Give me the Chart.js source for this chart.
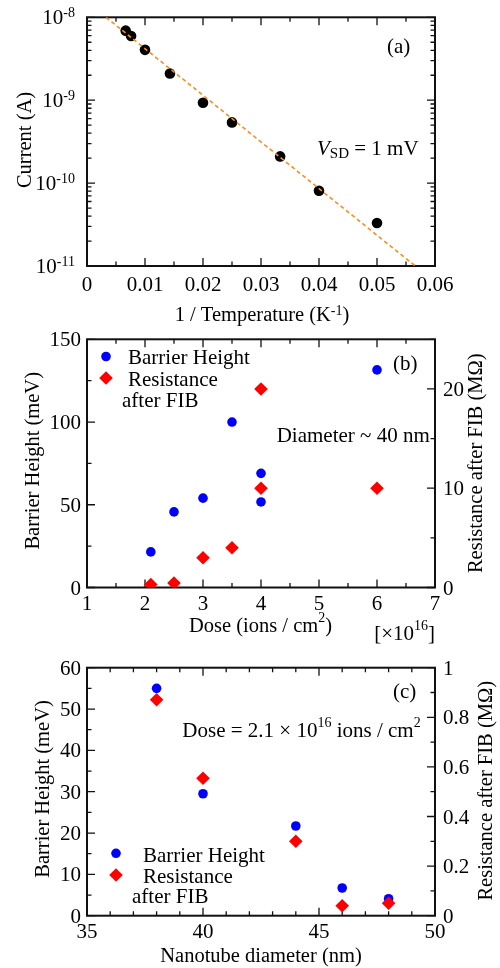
<!DOCTYPE html>
<html><head><meta charset="utf-8">
<script src="https://cdn.jsdelivr.net/npm/chart.js@4"></script>
<style>
html,body{margin:0;padding:0;background:#fff;}
#wrap{position:relative;width:500px;height:968px;background:#fff;}
canvas{position:absolute;left:0;top:0;}
</style></head><body>
<div id="wrap">
<canvas id="ca" width="500" height="968"></canvas>
<canvas id="cb" width="500" height="968"></canvas>
<canvas id="cc" width="500" height="968"></canvas>
</div>
<script>
// ---------- Panel (a) data ----------
const aInvTemp = [0.00667, 0.0076, 0.0100, 0.0143, 0.0200, 0.0250, 0.0333, 0.0400, 0.0500];
const aCurrent = [6.9e-9, 5.95e-9, 4.05e-9, 2.1e-9, 9.3e-10, 5.4e-10, 2.1e-10, 8.1e-11, 3.3e-11];
const aFitX = [0.00328, 0.0566];
const aFitY = [1e-8, 1e-11];
const aXTicks = [0, 0.01, 0.02, 0.03, 0.04, 0.05, 0.06];
const aXTickLabels = ['0', '0.01', '0.02', '0.03', '0.04', '0.05', '0.06'];
const aYTicks = [1e-11, 1e-10, 1e-9, 1e-8];
const aYTickExp = ['-11', '-10', '-9', '-8'];

// ---------- Panel (b) data ----------
const bDose = [2.1, 2.5, 3.0, 3.5, 4.0, 4.0, 6.0];
const bBarrier = [21.5, 45.7, 54, 100, 69, 51.7, 131.5];
const bResDose = [2.1, 2.5, 3.0, 3.5, 4.0, 4.0, 6.0];
const bResistance = [0.3, 0.45, 3, 4, 20, 10, 10];
const bXTicks = [1, 2, 3, 4, 5, 6, 7];
const bYTicks = [0, 50, 100, 150];
const bY2Ticks = [0, 10, 20];

// ---------- Panel (c) data ----------
const cDiameter = [38, 40, 44, 46, 48];
const cBarrier = [55, 29.5, 21.7, 6.7, 4.1];
const cResistance = [0.871, 0.554, 0.30, 0.04, 0.05];
const cXTicks = [35, 40, 45, 50];
const cYTicks = [0, 10, 20, 30, 40, 50, 60];
const cY2Ticks = [0, 0.2, 0.4, 0.6, 0.8, 1];
const cY2TickLabels = ['0', '0.2', '0.4', '0.6', '0.8', '1'];

const FF = '"Liberation Serif", "Times New Roman", serif';
const W = 500, H = 968;
const AREA_L = 87, AREA_R = 435;

function range(a, b, step) { const r = []; for (let v = a; v <= b + 1e-9; v += step) r.push(+v.toFixed(6)); return r; }

function rich(ctx, x, y, parts, o = {}) {
  const size = o.size || 21, align = o.align || 'left';
  ctx.save();
  ctx.translate(x, y);
  if (o.rot) ctx.rotate(o.rot);
  ctx.textBaseline = 'alphabetic'; ctx.textAlign = 'left';
  ctx.fillStyle = o.color || '#000';
  const items = parts.map(p => {
    const t = typeof p === 'string' ? { t: p } : p;
    const s = (t.sup || t.sub) ? (t.size || size * 0.66) : size;
    const font = (t.it ? 'italic ' : '') + s + 'px ' + FF;
    ctx.font = font;
    const w = ctx.measureText(t.t).width;
    const dy = t.sup ? -(t.raise != null ? t.raise : size * 0.4) : t.sub ? (t.drop != null ? t.drop : size * 0.16) : 0;
    return { t: t.t, font, w, dy, dx: t.dx || 0 };
  });
  const total = items.reduce((a, b) => a + b.w + b.dx, 0);
  let cx = align === 'left' ? 0 : align === 'right' ? -total : -total / 2;
  for (const it of items) { cx += it.dx; ctx.font = it.font; ctx.fillText(it.t, cx, it.dy); cx += it.w; }
  ctx.restore();
}

function tickMarks(ctx, ca, scale, vals, len, sides) {
  ctx.beginPath();
  for (const v of vals) {
    const p = scale.getPixelForValue(v);
    for (const s of sides) {
      if (s === 'bottom') { ctx.moveTo(p, ca.bottom); ctx.lineTo(p, ca.bottom - len); }
      if (s === 'top') { ctx.moveTo(p, ca.top); ctx.lineTo(p, ca.top + len); }
      if (s === 'left') { ctx.moveTo(ca.left, p); ctx.lineTo(ca.left + len, p); }
      if (s === 'right') { ctx.moveTo(ca.right, p); ctx.lineTo(ca.right - len, p); }
    }
  }
  ctx.stroke();
}

function drawFrame(ctx, ca) {
  ctx.save();
  ctx.strokeStyle = '#111'; ctx.lineWidth = 2;
  ctx.strokeRect(ca.left, ca.top, ca.right - ca.left, ca.bottom - ca.top);
  ctx.restore();
}

function legendMarks(ctx, x, y1, y2) {
  ctx.save();
  ctx.fillStyle = '#0000ff';
  ctx.beginPath(); ctx.arc(x, y1, 4.8, 0, Math.PI * 2); ctx.fill();
  ctx.fillStyle = '#ff0000';
  const r = 6.8;
  ctx.beginPath(); ctx.moveTo(x, y2 - r); ctx.lineTo(x + r, y2); ctx.lineTo(x, y2 + r); ctx.lineTo(x - r, y2); ctx.closePath(); ctx.fill();
  ctx.restore();
}

function decoPlugin(deco) {
  return {
    id: 'deco',
    beforeDatasetsDraw(chart) {
      const ctx = chart.ctx, ca = chart.chartArea;
      ctx.save();
      ctx.strokeStyle = '#111'; ctx.lineWidth = 1.3;
      deco.ticks(ctx, ca, chart.scales);
      ctx.restore();
      drawFrame(ctx, ca);
    },
    afterDatasetsDraw(chart) {
      deco.text(chart.ctx, chart.chartArea, chart.scales);
    }
  };
}

function hiddenAxis(extra) {
  return Object.assign({
    grid: { display: false, drawTicks: false },
    border: { display: false },
    ticks: { display: false },
    title: { display: false }
  }, extra);
}

function make(id, top, bottom, hasRight, scales, datasets, deco) {
  scales.x.afterFit = s => { s.height = H - bottom; };
  scales.y.afterFit = s => { s.width = AREA_L; };
  if (scales.y2) scales.y2.afterFit = s => { s.width = W - AREA_R; };
  return new Chart(document.getElementById(id), {
    type: 'scatter',
    data: { datasets },
    options: {
      responsive: false, animation: false, events: [],
      layout: { padding: { top: top, left: 0, right: hasRight ? 0 : W - AREA_R, bottom: 0 } },
      scales,
      plugins: { legend: { display: false }, tooltip: { enabled: false } }
    },
    plugins: [decoPlugin(deco)]
  });
}

const MAJ = 8, MIN = 4.5;
const pts = (xs, ys) => xs.map((x, i) => ({ x, y: ys[i] }));

// ---------- Chart (a) ----------
make('ca', 17.3, 266, false, {
  x: hiddenAxis({ type: 'linear', min: 0, max: 0.06 }),
  y: hiddenAxis({ type: 'logarithmic', min: 1e-11, max: 1e-8 })
}, [
  { data: pts(aFitX, aFitY), showLine: true, borderColor: '#ff8c1a', borderWidth: 1.6, borderDash: [4, 3], pointRadius: 0, order: 0 },
  { data: pts(aInvTemp, aCurrent), backgroundColor: '#000', borderColor: '#000', borderWidth: 0, pointRadius: 5.3, order: 1 }
], {
  ticks(ctx, ca, s) {
    tickMarks(ctx, ca, s.x, aXTicks, MAJ, ['bottom', 'top']);
    tickMarks(ctx, ca, s.x, range(0.005, 0.055, 0.01), MIN, ['bottom', 'top']);
    tickMarks(ctx, ca, s.y, aYTicks, MAJ, ['left', 'right']);
    const minors = [];
    for (let e = -11; e < -8; e++) for (let m = 2; m <= 9; m++) minors.push(m * Math.pow(10, e));
    tickMarks(ctx, ca, s.y, minors, MIN, ['left', 'right']);
  },
  text(ctx, ca, s) {
    aXTicks.forEach((v, i) => rich(ctx, s.x.getPixelForValue(v), 290.5, [aXTickLabels[i]], { align: 'center' }));
    aYTicks.forEach((v, i) => rich(ctx, 75, s.y.getPixelForValue(v) + 7, ['10', { t: aYTickExp[i], sup: true, size: 14, raise: 7.3 }], { align: 'right' }));
    rich(ctx, 262, 320.5, ['1 / Temperature (K', { t: '-1', sup: true, size: 14, raise: 6 }, ')'], { align: 'center', size: 20.5 });
    rich(ctx, 31, 140, ['Current (A)'], { align: 'center', size: 20.5, rot: -Math.PI / 2 });
    rich(ctx, 387, 53, ['(a)']);
    rich(ctx, 317, 155, [{ t: 'V', it: true }, { t: 'SD', sub: true, size: 15, drop: 3.3 }, ' = 1 mV']);
  }
});

// ---------- Chart (b) ----------
make('cb', 339.3, 587.5, true, {
  x: hiddenAxis({ type: 'linear', min: 1, max: 7 }),
  y: hiddenAxis({ type: 'linear', min: 0, max: 150, position: 'left' }),
  y2: hiddenAxis({ type: 'linear', min: 0, max: 25, position: 'right' })
}, [
  { data: pts(bDose, bBarrier), yAxisID: 'y', backgroundColor: '#0000ff', borderColor: '#0000ff', borderWidth: 0, pointRadius: 4.8, order: 1 },
  { data: pts(bResDose, bResistance), yAxisID: 'y2', backgroundColor: '#ff0000', borderColor: '#ff0000', borderWidth: 0, pointStyle: 'rectRot', pointRadius: 6.8, order: 0 }
], {
  ticks(ctx, ca, s) {
    tickMarks(ctx, ca, s.x, bXTicks, MAJ, ['bottom', 'top']);
    tickMarks(ctx, ca, s.x, range(1.5, 6.5, 1), MIN, ['bottom', 'top']);
    tickMarks(ctx, ca, s.y, bYTicks, MAJ, ['left']);
    tickMarks(ctx, ca, s.y, range(25, 125, 50), MIN, ['left']);
    tickMarks(ctx, ca, s.y2, bY2Ticks, MAJ, ['right']);
    tickMarks(ctx, ca, s.y2, range(5, 25, 10), MIN, ['right']);
  },
  text(ctx, ca, s) {
    bXTicks.forEach(v => rich(ctx, s.x.getPixelForValue(v), 610, [String(v)], { align: 'center' }));
    bYTicks.forEach(v => rich(ctx, 81, s.y.getPixelForValue(v) + 7, [String(v)], { align: 'right' }));
    bY2Ticks.forEach(v => rich(ctx, 443, s.y2.getPixelForValue(v) + 7, [String(v)], { align: 'left' }));
    rich(ctx, 260.5, 631.7, ['Dose (ions / cm', { t: '2', sup: true, size: 14, raise: 10 }, ')'], { align: 'center', size: 20.5 });
    rich(ctx, 435, 640, ['[\u00d710', { t: '16', sup: true, size: 14, raise: 10 }, ']'], { align: 'right' });
    rich(ctx, 38.5, 460.8, ['Barrier Height (meV)'], { align: 'center', size: 20.5, rot: -Math.PI / 2 });
    rich(ctx, 481.5, 463.3, ['Resistance after FIB (M\u03a9)'], { align: 'center', size: 20.5, rot: -Math.PI / 2 });
    rich(ctx, 393, 370, ['(b)']);
    rich(ctx, 276.7, 442, ['Diameter ~ 40 nm']);
    legendMarks(ctx, 106, 356.5, 378);
    rich(ctx, 128, 364, ['Barrier Height']);
    rich(ctx, 128, 385.7, ['Resistance']);
    rich(ctx, 122, 406.5, ['after FIB']);
  }
});

// ---------- Chart (c) ----------
make('cc', 667.7, 915.7, true, {
  x: hiddenAxis({ type: 'linear', min: 35, max: 50 }),
  y: hiddenAxis({ type: 'linear', min: 0, max: 60, position: 'left' }),
  y2: hiddenAxis({ type: 'linear', min: 0, max: 1, position: 'right' })
}, [
  { data: pts(cDiameter, cBarrier), yAxisID: 'y', backgroundColor: '#0000ff', borderColor: '#0000ff', borderWidth: 0, pointRadius: 4.8, order: 1 },
  { data: pts(cDiameter, cResistance), yAxisID: 'y2', backgroundColor: '#ff0000', borderColor: '#ff0000', borderWidth: 0, pointStyle: 'rectRot', pointRadius: 6.8, order: 0 }
], {
  ticks(ctx, ca, s) {
    tickMarks(ctx, ca, s.x, cXTicks, MAJ, ['bottom', 'top']);
    tickMarks(ctx, ca, s.x, range(36, 49, 1).filter(v => v % 5 !== 0), MIN, ['bottom', 'top']);
    tickMarks(ctx, ca, s.y, cYTicks, MAJ, ['left']);
    tickMarks(ctx, ca, s.y, range(5, 55, 10), MIN, ['left']);
    tickMarks(ctx, ca, s.y2, cY2Ticks, MAJ, ['right']);
    tickMarks(ctx, ca, s.y2, range(0.1, 0.9, 0.2), MIN, ['right']);
  },
  text(ctx, ca, s) {
    cXTicks.forEach(v => rich(ctx, s.x.getPixelForValue(v), 937.5, [String(v)], { align: 'center' }));
    cYTicks.forEach(v => rich(ctx, 81, s.y.getPixelForValue(v) + 7, [String(v)], { align: 'right' }));
    cY2Ticks.forEach((v, i) => rich(ctx, 443, s.y2.getPixelForValue(v) + 7, [cY2TickLabels[i]], { align: 'left' }));
    rich(ctx, 261, 962, ['Nanotube diameter (nm)'], { align: 'center', size: 20.5 });
    rich(ctx, 48.5, 789, ['Barrier Height (meV)'], { align: 'center', size: 20.5, rot: -Math.PI / 2 });
    rich(ctx, 491.5, 790.8, ['Resistance after FIB (M\u03a9)'], { align: 'center', size: 20.5, rot: -Math.PI / 2 });
    rich(ctx, 393, 698, ['(c)']);
    rich(ctx, 182.3, 736.7, ['Dose = 2.1 \u00d7 10', { t: '16', sup: true, size: 14, raise: 9.5 }, ' ions / cm', { t: '2', sup: true, size: 14, raise: 9.5 }]);
    legendMarks(ctx, 116, 853.3, 875);
    rich(ctx, 143, 861.7, ['Barrier Height']);
    rich(ctx, 143, 883.3, ['Resistance']);
    rich(ctx, 132, 903.3, ['after FIB']);
  }
});
</script>
</body></html>
